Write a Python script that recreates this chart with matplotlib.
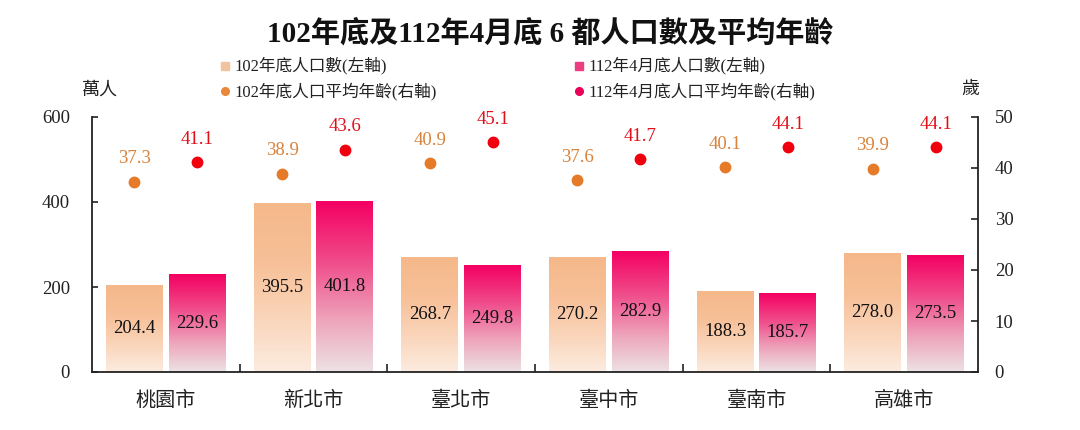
import numpy as np
import matplotlib
matplotlib.use("Agg")
import matplotlib.pyplot as plt
from matplotlib.colors import LinearSegmentedColormap
from matplotlib.lines import Line2D

plt.rcParams['font.family'] = ['Liberation Serif', 'Noto Sans CJK TC']

cities = ['桃園市', '新北市', '臺北市', '臺中市', '臺南市', '高雄市']
pop_102 = [204.4, 395.5, 268.7, 270.2, 188.3, 278.0]
pop_112 = [229.6, 401.8, 249.8, 282.9, 185.7, 273.5]
age_102 = [37.3, 38.9, 40.9, 37.6, 40.1, 39.9]
age_112 = [41.1, 43.6, 45.1, 41.7, 44.1, 44.1]
legend_labels = ['102年底人口數(左軸)', '112年4月底人口數(左軸)',
                 '102年底人口平均年齡(右軸)', '112年4月底人口平均年齡(右軸)']
title = '102年底及112年4月底 6 都人口數及平均年齡'

c = lambda r, g, b: (r / 255, g / 255, b / 255)
cmap_orange = LinearSegmentedColormap.from_list('o', [
    (0.0, c(252, 236, 224)), (0.3, c(250, 214, 188)),
    (0.65, c(247, 192, 152)), (1.0, c(245, 184, 138))])
cmap_pink = LinearSegmentedColormap.from_list('p', [
    (0.0, c(236, 226, 228)), (0.3, c(238, 165, 188)),
    (0.65, c(240, 75, 138)), (1.0, c(244, 0, 98))])

fig = plt.figure(figsize=(10.8, 4.3), dpi=100)
ax = fig.add_axes([92 / 1080, 1 - 372 / 430, 886 / 1080, 255 / 430])
ax2 = ax.twinx()

x = np.arange(len(cities))
w = 0.386
off = 0.213
bars1 = ax.bar(x - off, pop_102, w, color='none', edgecolor='none')
bars2 = ax.bar(x + off, pop_112, w, color='none', edgecolor='none')

grad = np.linspace(0, 1, 256).reshape(-1, 1)
for bars, cmap in ((bars1, cmap_orange), (bars2, cmap_pink)):
    for r in bars:
        x0, y0 = r.get_x(), r.get_y()
        ax.imshow(grad, cmap=cmap, origin='lower', aspect='auto',
                  extent=(x0, x0 + r.get_width(), y0, y0 + r.get_height()),
                  zorder=1, interpolation='bilinear')
        ax.text(x0 + r.get_width() / 2, y0 + r.get_height() / 2,
                f'{r.get_height():.1f}', ha='center', va='center',
                fontsize=13.5, color='#111111', zorder=3)

ax.set_xlim(-0.5, len(cities) - 0.5)
ax.set_ylim(0, 600)
ax.set_yticks([0, 200, 400, 600])
ax2.set_ylim(0, 50)
ax2.set_yticks([0, 10, 20, 30, 40, 50])

ax2.plot(x - off, age_102, 'o', color='#E57A28', ms=7.5, ls='none', zorder=4)
ax2.plot(x + off, age_112, 'o', color='#F0000E', ms=7.5, ls='none', zorder=4)
for xi, v in zip(x - off, age_102):
    ax2.annotate(f'{v:.1f}', (xi, v), xytext=(0, 16.5), textcoords='offset points',
                 ha='center', va='center', fontsize=13.5, color='#D9823A')
for xi, v in zip(x + off, age_112):
    ax2.annotate(f'{v:.1f}', (xi, v), xytext=(0, 16.5), textcoords='offset points',
                 ha='center', va='center', fontsize=13.5, color='#E0101A')

for a in (ax, ax2):
    a.spines['top'].set_visible(False)
    for s in a.spines.values():
        s.set_color('#222222')
        s.set_linewidth(1.3)
ax.spines['right'].set_visible(False)
ax2.spines['left'].set_visible(False)
ax2.spines['bottom'].set_visible(False)

ax.set_xticks(x)
ax.set_xticklabels(cities, fontsize=14.5, color='#222222')
ax.tick_params(axis='x', which='major', length=0, pad=14)
ax.set_xticks(np.arange(0.5, len(cities) - 1, 1.0), minor=True)
ax.tick_params(axis='x', which='minor', direction='in', length=6, width=1.2, color='#222222')
ax.tick_params(axis='y', direction='in', length=4, width=1.2, labelsize=13.5, pad=16,
               colors='#222222')
ax2.tick_params(axis='y', direction='in', length=5, width=1.2, labelsize=13.5, pad=12,
                colors='#222222')

fig.text(550 / 1080, 1 - 34 / 430, title, ha='center', va='center',
         fontsize=21, fontweight='bold', color='#111111')
fig.text(100 / 1080, 1 - 90 / 430, '萬人', ha='center', va='center', fontsize=13,
         color='#222222')
fig.text(970 / 1080, 1 - 89 / 430, '歲', ha='center', va='center', fontsize=13,
         color='#222222')

legend_pos = [(225, 66), (579, 66), (225, 91), (579, 91)]
legend_marks = [('s', '#F3C3A0'), ('s', '#EC3D80'), ('o', '#E9873A'), ('o', '#E8005A')]
for (lx, ly), (mk, mc), lab in zip(legend_pos, legend_marks, legend_labels):
    fig.add_artist(Line2D([lx / 1080], [1 - ly / 430], marker=mk, color=mc,
                          ms=5.5, ls='none', transform=fig.transFigure))
    fig.text((lx + 9) / 1080, 1 - ly / 430, lab, ha='left', va='center',
             fontsize=12, color='#222222')

fig.savefig('out.png', dpi=100)
